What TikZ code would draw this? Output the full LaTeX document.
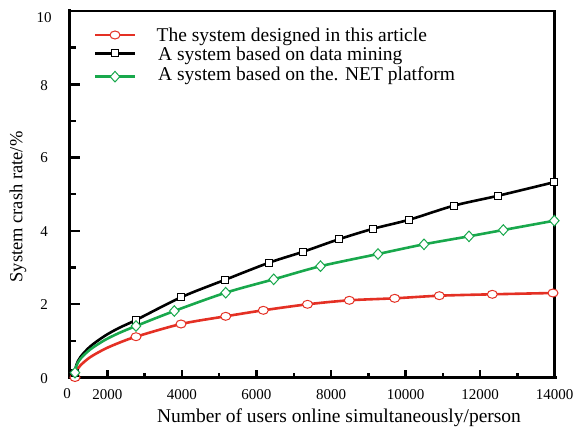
\documentclass[tikz,border=0pt]{standalone}
\usepackage{fontspec}
\setmainfont{Liberation Serif}
\usetikzlibrary{shapes.geometric}
\definecolor{curvered}{RGB}{228,48,36}
\definecolor{curvegreen}{RGB}{24,168,76}
\begin{document}
\begin{tikzpicture}[x=1pt,y=-1pt,
  curve/.style={line width=2.6pt, line join=round, line cap=round},
  redmark/.style={ellipse, draw=curvered, fill=white, line width=1pt, minimum width=10pt, minimum height=8pt, inner sep=0pt},
  blackmark/.style={rectangle, draw=black, fill=white, line width=1pt, minimum size=7pt, inner sep=0pt},
  greenmark/.style={diamond, draw=curvegreen, fill=white, line width=1pt, minimum width=10pt, minimum height=11pt, inner sep=0pt},
  ticklabel/.style={font=\fontsize{15}{18}\selectfont, inner sep=0pt},
  legendtext/.style={font=\fontsize{19.5}{22}\selectfont, anchor=base west, inner sep=0pt},
  axistitle/.style={font=\fontsize{19.5}{22}\selectfont, inner sep=0pt},
  axisline/.style={line width=3.6pt},
  tickline/.style={line width=2.4pt}]
\useasboundingbox (0,0) rectangle (574,431);

% frame
\draw[line width=2.8pt] (69.5,11) -- (554.7,11) -- (554.7,377.5);
\draw[axisline, line cap=rect] (69.5,11) -- (69.5,377.5) -- (554.7,377.5);

% y ticks
\foreach \k in {0,2,...,10} \draw[tickline] (69.5,{377.5-36.65*\k}) -- ++(10,0);
\foreach \k in {1,3,...,9} \draw[tickline] (69.5,{377.5-36.65*\k}) -- ++(6,0);
% x ticks
\foreach \i in {0,...,6} \draw[tickline] ({107.3+74.57*\i},377.5) -- ++(0,-8);
\foreach \i in {0,...,5} \draw[tickline] ({144.6+74.57*\i},377.5) -- ++(0,-4.5);

% y tick labels
\foreach \k/\yy in {0/378.5,2/305,4/231.5,6/158,8/85.5,10/17.5}
  \node[ticklabel] (ylab\k) at (44,\yy) {\k};
% x tick labels
\node[ticklabel] (xlab0) at (67,394) {0};
\foreach \v [count=\i from 0] in {2000,4000,6000,8000,10000,12000,14000}
  \node[ticklabel] (xlab\v) at ({107.3+74.57*\i},395) {\v};

% axis titles
\node[axistitle] (xtitle) at (339,418) {Number of users online simultaneously/person};
\node[axistitle, rotate=90, font=\fontsize{18.5}{22}\selectfont] (ytitle) at (18,207) {System crash rate/\%};

% curves
\draw[curve, curvered] plot[smooth, tension=0.5] coordinates {(75,377.5) (76.4,371.4) (80.5,365.3) (90.3,357.1) (104.9,348.9) (119.1,342.8) (136,336.7) (181,324) (225.7,316.3) (263.3,310.3) (307.5,304.3) (349.3,300.3) (394.7,298.3) (439.3,295.7) (492.3,294.3) (553,293)};
\draw[curve, black] plot[smooth, tension=0.5] coordinates {(75,372.7) (76.4,364.8) (80.5,356.9) (90.3,346.4) (104.9,335.8) (119.1,327.9) (136,320) (181,297.3) (225.3,279.7) (269,262.7) (303.3,251.7) (338.7,239.3) (373.3,228.7) (409.3,219.7) (453.7,205.7) (498.3,195.7) (553.7,182.3)};
\draw[curve, curvegreen] plot[smooth, tension=0.5] coordinates {(75,372.7) (76.4,365.7) (80.5,358.7) (90.3,349.4) (104.9,340) (119.1,333) (136,326) (174.3,311) (225.7,292.7) (273.7,279.3) (320.5,266.2) (378,254) (424,244.3) (469,236.3) (503.3,230) (554.3,220.7)};

% markers
\foreach \p [count=\i] in {(75,377.5),(136,336.7),(181,324),(225.7,316.3),(263.3,310.3),(307.5,304.3),(349.3,300.3),(394.7,298.3),(439.3,295.7),(492.3,294.3),(553,293)}
  \node[redmark] (r\i) at \p {};
\foreach \p [count=\i] in {(75,372.7),(136,320),(181,297.3),(225.3,279.7),(269,262.7),(303.3,251.7),(338.7,239.3),(373.3,228.7),(409.3,219.7),(453.7,205.7),(498.3,195.7),(553.7,182.3)}
  \node[blackmark] (b\i) at \p {};
\foreach \p [count=\i] in {(75,372.7),(136,326),(174.3,311),(225.7,292.7),(273.7,279.3),(320.5,266.2),(378,254),(424,244.3),(469,236.3),(503.3,230),(554.3,220.7)}
  \node[greenmark] (g\i) at \p {};

% legend
\coordinate (l1a) at (95,35);   \coordinate (l1b) at (135,35);
\coordinate (l2a) at (95,53.3); \coordinate (l2b) at (135,53.3);
\coordinate (l3a) at (95,76.7); \coordinate (l3b) at (135,76.7);
\draw[curve, curvered, line cap=butt] (l1a) -- (l1b);
\draw[curve, black, line cap=butt] (l2a) -- (l2b);
\draw[curve, curvegreen, line cap=butt] (l3a) -- (l3b);
\node[redmark] (lm1) at (115,35) {};
\node[blackmark] (lm2) at (115,53.3) {};
\node[greenmark] (lm3) at (115,76.7) {};
\node[legendtext] (lt1) at (156.5,41.7) {The system designed in this article};
\node[legendtext] (lt2) at (158,60) {A system based on data mining};
\node[legendtext] (lt3) at (158,81) {A system based on the. NET platform};
\end{tikzpicture}
\end{document}
